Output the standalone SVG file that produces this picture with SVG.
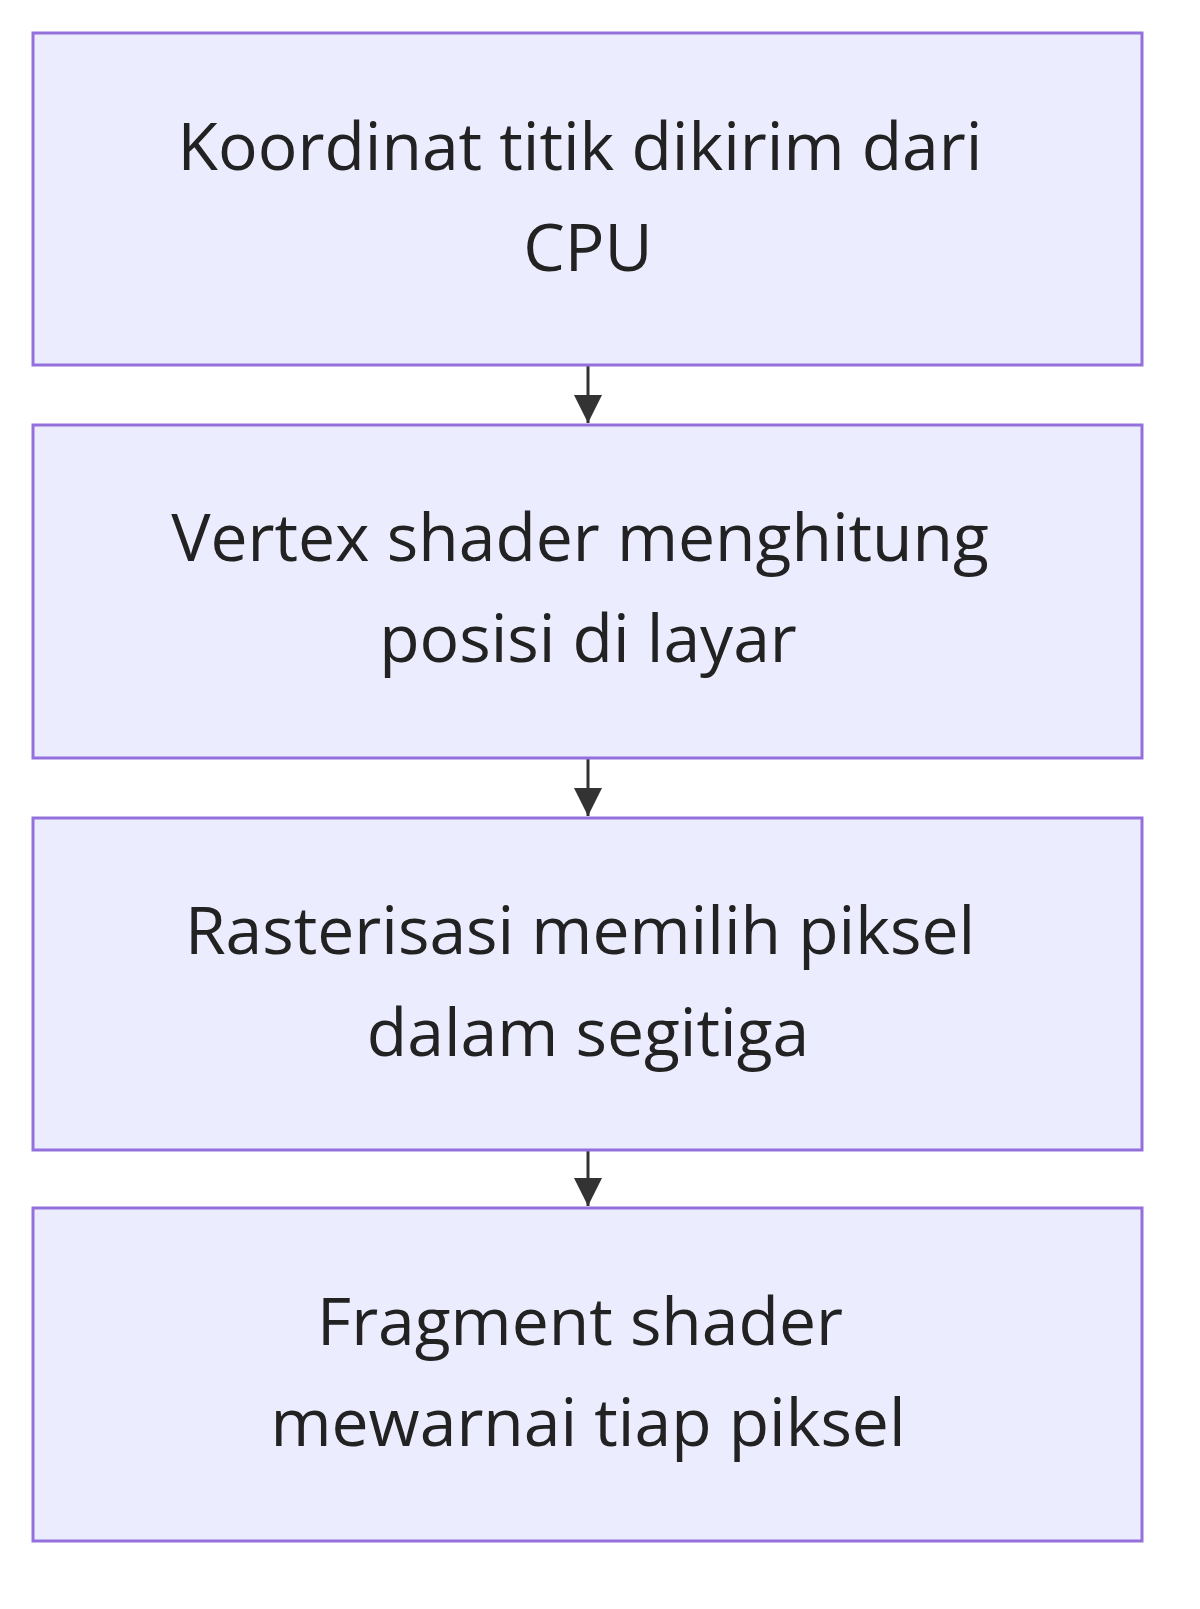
<svg xmlns="http://www.w3.org/2000/svg" width="1200" height="1609" viewBox="0 0 1200 1609">
<style>
.box{fill:#ECECFF;stroke:#9370DB;stroke-width:3}
.t{font-family:"Open Sans","DejaVu Sans",sans-serif;font-size:66px;fill:#222;text-anchor:middle}
.e{stroke:#333;stroke-width:3;fill:none}
</style>
<defs><marker id="ah" viewBox="0 0 10 10" refX="10" refY="5" markerWidth="28" markerHeight="28" markerUnits="userSpaceOnUse" orient="auto"><path d="M0,0L10,5L0,10z" fill="#333"/></marker></defs>
<rect width="1200" height="1609" fill="#fff"/>
<g id="edges">
<path class="e" d="M588,366V423" marker-end="url(#ah)"/>
<path class="e" d="M588,759V816" marker-end="url(#ah)"/>
<path class="e" d="M588,1151V1206" marker-end="url(#ah)"/>
</g>
<g id="n1"><rect class="box" x="33" y="33" width="1109" height="332"/><text class="t" x="580" y="170">Koordinat titik dikirim dari</text><text class="t" x="588" y="271">CPU</text></g>
<g id="n2"><rect class="box" x="33" y="425" width="1109" height="333"/><text class="t" x="580" y="561">Vertex shader menghitung</text><text class="t" x="588" y="662">posisi di layar</text></g>
<g id="n3"><rect class="box" x="33" y="818" width="1109" height="332"/><text class="t" x="580" y="954">Rasterisasi memilih piksel</text><text class="t" x="588" y="1056">dalam segitiga</text></g>
<g id="n4"><rect class="box" x="33" y="1208" width="1109" height="333"/><text class="t" x="580" y="1345">Fragment shader</text><text class="t" x="588" y="1446">mewarnai tiap piksel</text></g>
</svg>
